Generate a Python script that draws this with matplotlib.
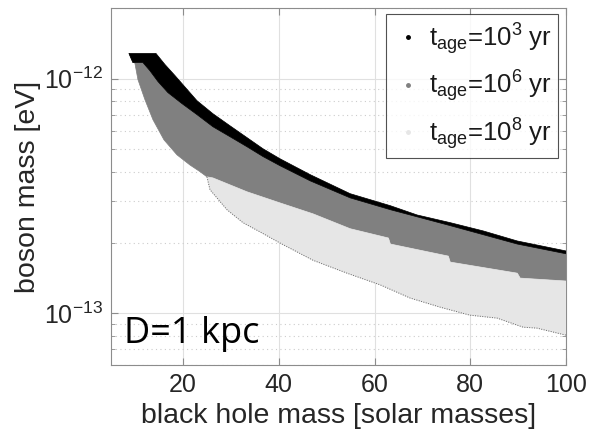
import numpy as np
import matplotlib
matplotlib.use('Agg')
import matplotlib.pyplot as plt
from matplotlib.ticker import LogLocator, NullFormatter

plt.rcParams['font.family'] = ['Liberation Sans', 'DejaVu Sans']
plt.rcParams['mathtext.fontset'] = 'custom'
plt.rcParams['mathtext.rm'] = 'Liberation Sans'
plt.rcParams['mathtext.default'] = 'regular'

# upper edge of the black (t_age = 1e3 yr) band
black_top_x = [8.72, 14.36, 16.24, 18.33, 22.92, 26.26, 29.82, 33.37, 36.71, 40.26,
               46.6, 54.9, 63.3, 68.9, 75.8, 82.7, 89.8, 100]
black_top_m = [1.28e-12, 1.28e-12, 1.148e-12, 1.03e-12, 8.05e-13, 7.08e-13, 6.29e-13, 5.60e-13,
               5.02e-13, 4.55e-13, 3.89e-13, 3.23e-13, 2.87e-13, 2.62e-13, 2.43e-13, 2.24e-13,
               2.03e-13, 1.84e-13]

# lower edge of the black band = upper edge of the grey (1e6 yr) region
gray_top_x = [8.72, 9.55, 11.64, 13.10, 14.78, 16.86, 19.79, 22.92, 26.26, 29.82, 33.37,
              36.71, 40.26, 46.6, 54.9, 63.3, 75.8, 89.8, 100]
gray_top_m = [1.28e-12, 1.17e-12, 1.17e-12, 1.08e-12, 9.71e-13, 8.71e-13, 7.82e-13, 7.02e-13,
              6.23e-13, 5.65e-13, 5.12e-13, 4.65e-13, 4.25e-13, 3.66e-13, 3.10e-13, 2.76e-13,
              2.36e-13, 1.97e-13, 1.79e-13]

# left/lower edge of the grey region, before the light grey part starts
gray_bot_x = [9.97, 10.6, 12.06, 13.73, 16.03, 18.74, 21.46, 23.55, 25.01]
gray_bot_m = [1.16e-12, 9.90e-13, 8.13e-13, 6.68e-13, 5.48e-13, 4.73e-13, 4.28e-13, 4.01e-13,
              3.81e-13]

# light grey (1e8 yr) region
light_top_x = [25.01, 26.26, 33.37, 40.26, 47.15, 54.9, 62.9, 63.3, 75.4, 75.8, 89.8, 90.4, 100]
light_top_m = [3.81e-13, 3.77e-13, 3.29e-13, 2.95e-13, 2.65e-13, 2.29e-13, 2.09e-13, 1.97e-13,
               1.75e-13, 1.65e-13, 1.48e-13, 1.41e-13, 1.37e-13]
light_bot_x = [25.01, 25.64, 29.19, 32.53, 36.08, 40.26, 47.15, 54.25, 61.15, 67.4, 73.7,
               79.9, 85.6, 91.0, 93.9, 100]
light_bot_m = [3.81e-13, 3.36e-13, 2.76e-13, 2.43e-13, 2.22e-13, 1.99e-13, 1.68e-13, 1.48e-13,
               1.32e-13, 1.16e-13, 1.06e-13, 9.80e-14, 9.52e-14, 8.71e-14, 8.63e-14, 8.05e-14]

labels = ['t$_{age}$=10$^3$ yr', 't$_{age}$=10$^6$ yr', 't$_{age}$=10$^8$ yr']
colors = ['black', '0.5', '0.9']

fig = plt.figure(figsize=(5.91, 4.41), dpi=100)
ax = fig.add_axes([0.188, 0.172, 0.770, 0.810])

# grey region (drawn first, black band goes on top)
gx = gray_top_x + (gray_bot_x + light_top_x)[::-1]
gm = gray_top_m + (gray_bot_m + light_top_m)[::-1]
ax.fill(gx, gm, color=colors[1], lw=0.5, zorder=2)

bx = black_top_x + gray_top_x[::-1]
bm = black_top_m + gray_top_m[::-1]
ax.fill(bx, bm, color=colors[0], lw=0.5, zorder=3)

lx = light_top_x + light_bot_x[::-1]
lm = light_top_m + light_bot_m[::-1]
ax.fill(lx, lm, color=colors[2], lw=0.5, zorder=3)
ax.plot(light_bot_x, light_bot_m, color='0.4', lw=0.7, ls=(0, (1, 1.5)), zorder=3)

for lab, c in zip(labels, colors):
    ax.plot([], [], ls='none', marker='.', ms=5, color=c, label=lab)

ax.set_yscale('log')
ax.set_xlim(5, 100)
ax.set_ylim(6e-14, 2e-12)
ax.set_xticks([20, 40, 60, 80, 100])
ax.set_yticks([1e-13, 1e-12])
ax.yaxis.set_minor_locator(LogLocator(base=10, subs=np.arange(2, 10), numticks=10))
ax.yaxis.set_minor_formatter(NullFormatter())

ax.grid(True, which='major', color='0.88', lw=0.8, zorder=0)
ax.grid(True, which='minor', axis='y', color='0.8', lw=0.8, ls=(0, (1, 3)), zorder=0)
ax.set_axisbelow(True)

ax.tick_params(which='both', direction='in', top=True, right=True, colors='0.55',
               labelcolor='0.15', labelsize=18)
ax.tick_params(which='major', length=5, pad=6)
ax.tick_params(which='minor', length=3)
for s in ax.spines.values():
    s.set_color('0.55')
    s.set_linewidth(0.8)

ax.set_xlabel('black hole mass [solar masses]', fontsize=20.5, color='0.15', labelpad=4)
ax.set_ylabel('boson mass [eV]', fontsize=20.5, color='0.15', labelpad=2)

ax.text(0.029, 0.062, 'D=1 kpc', transform=ax.transAxes, fontsize=26,
        family=['Open Sans', 'DejaVu Sans'], va='baseline', ha='left', zorder=5)

leg = ax.legend(loc='upper right', bbox_to_anchor=(0.982, 0.982), borderaxespad=0,
                fontsize=18.5, frameon=True, fancybox=False, labelspacing=0.45,
                handlelength=1.2, handletextpad=0.2, borderpad=0.25)
leg.get_frame().set_edgecolor('0.15')
leg.get_frame().set_linewidth(0.8)
for t in leg.get_texts():
    t.set_color('0.1')

fig.savefig('out.png', dpi=100)
